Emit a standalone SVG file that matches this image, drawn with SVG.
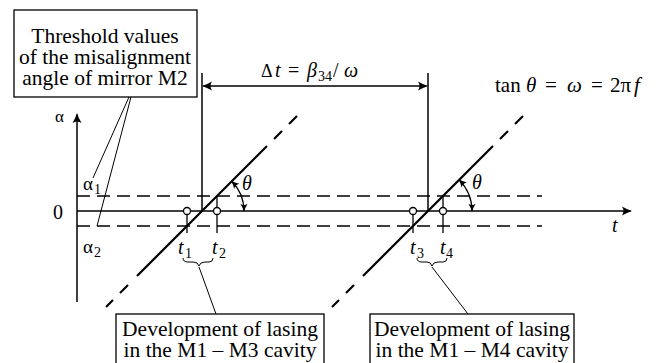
<svg xmlns="http://www.w3.org/2000/svg" width="667" height="363" viewBox="0 0 667 363" font-family="'Liberation Serif', 'DejaVu Serif', serif">
<style>
text{font-family:'Liberation Serif','DejaVu Serif',serif;fill:#000}
.lbl{font-size:21.5px}
.it{font-style:italic}
.sub{font-size:14px}
.box{fill:#fff;stroke:#000;stroke-width:1.3}
.ax{stroke:#000;stroke-width:1.5;fill:none}
.dash{stroke:#000;stroke-width:1.5;stroke-dasharray:13 7;fill:none}
.diag{stroke:#000;stroke-width:2.2;fill:none}
.thin{stroke:#000;stroke-width:1;fill:none}
.tick{stroke:#000;stroke-width:1.3;fill:none}
.pt{fill:#fff;stroke:#000;stroke-width:1.3}
</style>
<defs>
<marker id="ah" viewBox="-11 -5 12 10" refX="-1.5" refY="0" markerWidth="12" markerHeight="10" markerUnits="userSpaceOnUse" orient="auto-start-reverse">
<path d="M0,0 Q-5,-1.5 -10,-4.5 Q-7,0 -10,4.5 Q-5,1.5 0,0 Z" fill="#000"/>
</marker>
<marker id="ahs" viewBox="-11 -5 12 10" refX="-1" refY="0" markerWidth="10" markerHeight="8" markerUnits="userSpaceOnUse" orient="auto-start-reverse">
<path d="M0,0 Q-5,-1.5 -10,-4.5 Q-7,0 -10,4.5 Q-5,1.5 0,0 Z" fill="#000"/>
</marker>
</defs>
<rect width="667" height="363" fill="#fff"/>

<g id="axes">
<line class="ax" x1="77" y1="302" x2="77" y2="114.5" marker-end="url(#ah)"/>
<line class="ax" x1="77" y1="211" x2="630.5" y2="211" marker-end="url(#ah)"/>
<line class="dash" x1="77" y1="196" x2="542" y2="196"/>
<line class="dash" x1="77" y1="226" x2="542" y2="226"/>
<text x="55" y="122" font-size="17">α</text>
<text x="53" y="219" font-size="20">0</text>
<text x="83" y="190" font-size="19">α<tspan class="sub" x="94" y="194">1</tspan></text>
<text x="83" y="253" font-size="19">α<tspan class="sub" x="94" y="257">2</tspan></text>
<text x="612" y="232" class="it" font-size="20">t</text>
</g>

<g id="interval">
<line class="ax" x1="202" y1="73" x2="202" y2="211"/>
<line class="ax" x1="428" y1="73" x2="428" y2="211"/>
<line class="ax" x1="203.5" y1="86" x2="426.5" y2="86" marker-start="url(#ah)" marker-end="url(#ah)"/>
<text y="77" font-size="20"><tspan x="261" font-size="18">Δ</tspan><tspan x="275" class="it">t</tspan><tspan x="288">=</tspan><tspan x="307" class="it">β</tspan><tspan x="318" class="sub" y="81">34</tspan><tspan x="333" y="77">/</tspan><tspan x="344" class="it">ω</tspan></text>
</g>

<g id="ramp1">
<line class="diag" x1="137" y1="276" x2="267" y2="146"/>
<line class="diag" x1="106" y1="307" x2="113" y2="300"/>
<line class="diag" x1="120" y1="293" x2="128" y2="285"/>
<line class="diag" x1="274" y1="139" x2="282" y2="131"/>
<line class="diag" x1="289" y1="124" x2="297" y2="116"/>
<path class="tick" d="M231.7,181.3 A42,42 0 0,1 244,211" marker-start="url(#ahs)" marker-end="url(#ahs)"/>
<text x="242" y="190" class="it" font-size="20">θ</text>
</g>

<g id="ramp2">
<line class="diag" x1="363" y1="276" x2="493" y2="146"/>
<line class="diag" x1="332" y1="307" x2="339" y2="300"/>
<line class="diag" x1="346" y1="293" x2="354" y2="285"/>
<line class="diag" x1="500" y1="139" x2="508" y2="131"/>
<line class="diag" x1="515" y1="124" x2="523" y2="116"/>
<path class="tick" d="M459.1,179.9 A44,44 0 0,1 472,211" marker-start="url(#ahs)" marker-end="url(#ahs)"/>
<text x="472" y="189" class="it" font-size="20">θ</text>
<text y="92" font-size="21"><tspan x="495">tan</tspan><tspan x="526" class="it">θ</tspan><tspan x="545">=</tspan><tspan x="567" class="it">ω</tspan><tspan x="591">=</tspan><tspan x="610">2π</tspan><tspan x="634" class="it">f</tspan></text>
</g>

<g id="points">
<line class="tick" x1="187" y1="214.5" x2="187" y2="233"/>
<line class="tick" x1="217" y1="196" x2="217" y2="233"/>
<line class="tick" x1="413" y1="214.5" x2="413" y2="233"/>
<line class="tick" x1="443" y1="196" x2="443" y2="233"/>
<circle class="pt" cx="187" cy="211" r="3.5"/>
<circle class="pt" cx="217" cy="211" r="3.5"/>
<circle class="pt" cx="413" cy="211" r="3.5"/>
<circle class="pt" cx="443" cy="211" r="3.5"/>
<text x="178" y="254" class="it" font-size="20">t<tspan class="sub" font-style="normal" x="185" y="258">1</tspan></text>
<text x="212" y="254" class="it" font-size="20">t<tspan class="sub" font-style="normal" x="219" y="258">2</tspan></text>
<text x="410" y="254" class="it" font-size="20">t<tspan class="sub" font-style="normal" x="417" y="258">3</tspan></text>
<text x="440" y="254" class="it" font-size="20">t<tspan class="sub" font-style="normal" x="446" y="258">4</tspan></text>
<path class="thin" d="M183,258 Q183,262 188,262 L193,262 Q198,262 199,266 Q200,262 205,262 L209,262 Q213,262 213,258"/>
<path class="thin" d="M417,258 Q417,262 422,262 L427,262 Q431,262 432,266 Q433,262 438,262 L443,262 Q447,262 447,258"/>
</g>

<g id="threshold-box">
<rect class="box" x="14" y="10" width="183" height="87"/>
<text class="lbl" x="105" y="43" text-anchor="middle">Threshold values</text>
<text class="lbl" x="105" y="64" text-anchor="middle">of the misalignment</text>
<text class="lbl" x="105" y="85" text-anchor="middle">angle of mirror M2</text>
</g>

<g id="lasing-m1m3">
<rect class="box" x="116" y="314" width="208" height="60"/>
<text class="lbl" x="220" y="336" text-anchor="middle">Development of lasing</text>
<text class="lbl" x="220" y="357" text-anchor="middle">in the M1 – M3 cavity</text>
</g>

<g id="lasing-m1m4">
<rect class="box" x="370" y="314" width="204" height="60"/>
<text class="lbl" x="472" y="336" text-anchor="middle">Development of lasing</text>
<text class="lbl" x="472" y="357" text-anchor="middle">in the M1 – M4 cavity</text>
</g>

<g id="connectors">
<line class="thin" x1="129" y1="97" x2="93" y2="178"/>
<line class="thin" x1="131" y1="97" x2="97" y2="226"/>
<line class="thin" x1="199" y1="267" x2="216" y2="314"/>
<line class="thin" x1="432" y1="267" x2="468" y2="314"/>
</g>
</svg>
